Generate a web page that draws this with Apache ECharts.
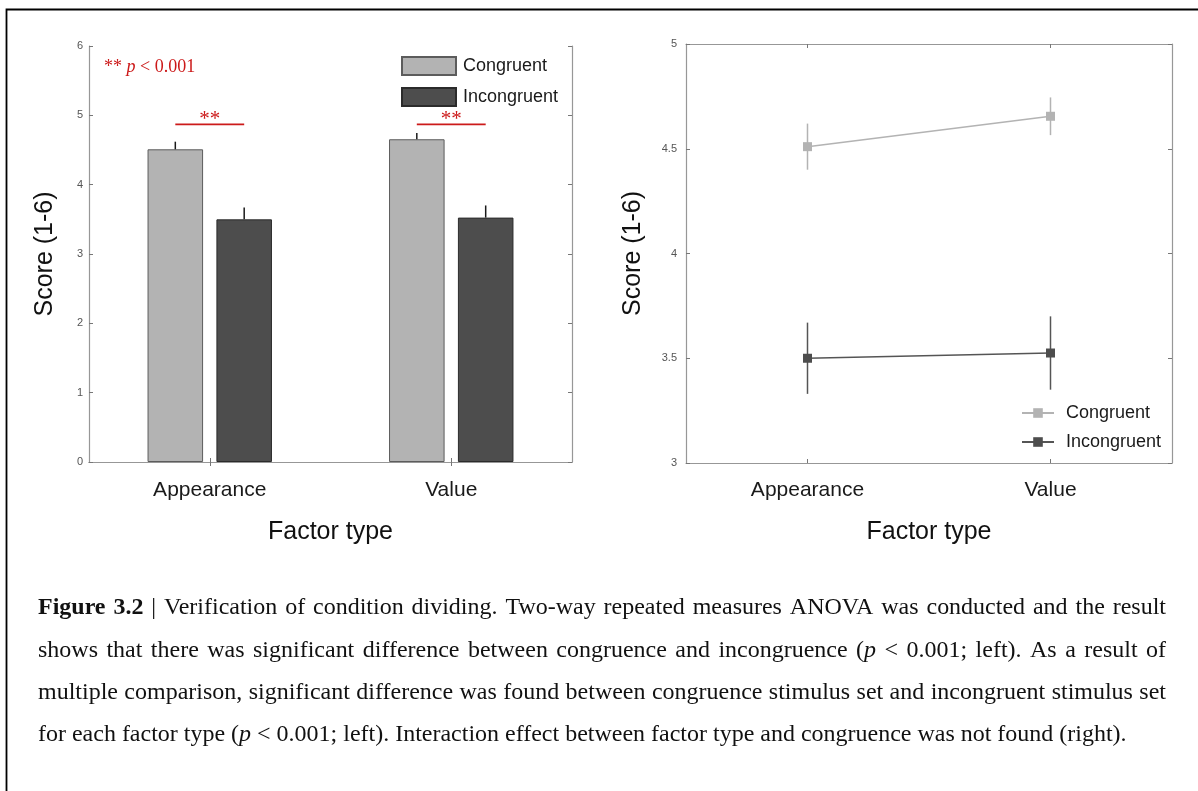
<!DOCTYPE html>
<html>
<head>
<meta charset="utf-8">
<script src="https://cdn.jsdelivr.net/npm/echarts@6/dist/echarts.min.js"></script>
<style>
  html, body { margin: 0; padding: 0; background: #fff; }
  #chart { width: 1198px; height: 791px; }
</style>
</head>
<body>
<div id="chart"></div>
<script>
// ---- data ----
const factorTypes = ['Appearance', 'Value'];
const congruentMean = [4.51, 4.655];
const congruentSE = [0.11, 0.09];
const incongruentMean = [3.50, 3.525];
const incongruentSE = [0.17, 0.175];
const sigBracketLevel = [4.87, 4.87];   // height of the "**" brackets on the bar panel
const sigMark = '**';
const barAxisRange = [0, 6, 1];         // min, max, interval
const lineAxisRange = [3, 5, 0.5];
const yAxisTitle = 'Score (1-6)';
const xAxisTitle = 'Factor type';
const captionLines = [
  '#Figure# #3.2# | Verification of condition dividing. Two-way repeated measures ANOVA was conducted and the result',
  'shows that there was significant difference between congruence and incongruence (_p_ < 0.001; left). As a result of',
  'multiple comparison, significant difference was found between congruence stimulus set and incongruent stimulus set',
  'for each factor type (_p_ < 0.001; left). Interaction effect between factor type and congruence was not found (right).'
];

// ---- styles ----
const SANS = 'Liberation Sans';
const SERIF = 'Liberation Serif';
const AXIS_GREY = '#979797';
const RED = '#cc1a1a';
const LIGHT = '#b3b3b3';
const DARK = '#4d4d4d';
const BAR_W = 0.23, BAR_GAP = 0.24;

const chart = echarts.init(document.getElementById('chart'), null, { renderer: 'canvas' });

function catAxis(gridIndex, bottom, labelMargin, nameGap) {
  return {
    type: 'category', gridIndex, data: factorTypes, position: bottom ? 'bottom' : 'top',
    boundaryGap: true,
    axisLine: { show: true, lineStyle: { color: AXIS_GREY, width: 1.2 } },
    axisTick: { show: true, inside: true, alignWithLabel: true, length: 4, lineStyle: { color: '#777' } },
    axisLabel: { show: bottom, fontFamily: SANS, fontSize: 21, color: '#1a1a1a', margin: labelMargin },
    name: bottom ? xAxisTitle : '', nameLocation: 'middle', nameGap,
    nameTextStyle: { fontFamily: SANS, fontSize: 25, color: '#111' },
    splitLine: { show: false }
  };
}
function valAxis(gridIndex, left, range, labelMargin, nameGap) {
  return {
    type: 'value', gridIndex, position: left ? 'left' : 'right',
    min: range[0], max: range[1], interval: range[2],
    axisLine: { show: true, lineStyle: { color: AXIS_GREY, width: 1.2 } },
    axisTick: { show: true, inside: true, length: 4, lineStyle: { color: '#777' } },
    axisLabel: { show: left, fontFamily: SANS, fontSize: 11, color: '#555', margin: labelMargin,
                 formatter: v => String(v) },
    splitLine: { show: false },
    name: left ? yAxisTitle : '', nameLocation: 'middle', nameRotate: 90, nameGap,
    nameTextStyle: { fontFamily: SANS, fontSize: 25, color: '#111' }
  };
}

// upper error whisker sitting on top of each bar
function barErrorItem(params, api) {
  const cat = api.value(0), m = api.value(1), se = api.value(2), g = api.value(3);
  const band = api.size([1, 0])[0];
  const bw = band * BAR_W;
  const off = (bw + bw * BAR_GAP) / 2 * (g === 0 ? -1 : 1);
  const p0 = api.coord([cat, m]);
  const p1 = api.coord([cat, m + se]);
  return {
    type: 'line',
    shape: { x1: p0[0] + off, y1: p0[1], x2: p1[0] + off, y2: p1[1] },
    style: { stroke: '#1a1a1a', lineWidth: 1.5 }
  };
}
// significance bracket spanning the two bars of a category
function sigItem(params, api) {
  const cat = api.value(0), y = api.value(1);
  const band = api.size([1, 0])[0];
  const bw = band * BAR_W;
  const off = (bw + bw * BAR_GAP) / 2;
  const p = api.coord([cat, y]);
  return {
    type: 'group',
    children: [
      { type: 'line', shape: { x1: p[0] - off, y1: p[1], x2: p[0] + off, y2: p[1] },
        style: { stroke: RED, lineWidth: 1.6 } },
      { type: 'text', x: p[0], y: p[1] - 5,
        style: { text: sigMark, fontFamily: SERIF, fontSize: 21, fill: RED, align: 'center', verticalAlign: 'middle' } }
    ]
  };
}
// symmetric error bar for the line panel
function lineErrorItem(color) {
  return function (params, api) {
    const cat = api.value(0), m = api.value(1), se = api.value(2);
    const lo = api.coord([cat, m - se]);
    const hi = api.coord([cat, m + se]);
    return { type: 'line', shape: { x1: lo[0], y1: lo[1], x2: hi[0], y2: hi[1] },
             style: { stroke: color, lineWidth: 1.5 } };
  };
}

const barErrData = factorTypes.map((_, i) => [i, congruentMean[i], congruentSE[i], 0])
  .concat(factorTypes.map((_, i) => [i, incongruentMean[i], incongruentSE[i], 1]));
const sigData = factorTypes.map((_, i) => [i, sigBracketLevel[i]]);
const congErr = factorTypes.map((_, i) => [i, congruentMean[i], congruentSE[i]]);
const incongErr = factorTypes.map((_, i) => [i, incongruentMean[i], incongruentSE[i]]);

// ---- caption, laid out word by word and justified ----
const measureCtx = document.createElement('canvas').getContext('2d');
function segFont(seg, size) {
  return (seg.italic ? 'italic ' : '') + (seg.bold ? 'bold ' : '') + size + 'px "' + SERIF + '"';
}
function parseToken(tok) {
  const parts = tok.split(/(#[^#]*#|_[^_]*_)/).filter(s => s.length);
  return parts.map(s => {
    if (s[0] === '#' && s.length > 1) return { text: s.slice(1, -1), bold: true };
    if (s[0] === '_' && s.length > 1) return { text: s.slice(1, -1), italic: true };
    return { text: s };
  });
}
function tokenWidth(segs, size) {
  let w = 0;
  segs.forEach(s => { measureCtx.font = segFont(s, size); w += measureCtx.measureText(s.text).width; });
  return w;
}
function naturalWidth(line, size) {
  const toks = line.split(' ').map(parseToken);
  measureCtx.font = segFont({}, size);
  const sp = measureCtx.measureText(' ').width;
  return toks.reduce((a, t) => a + tokenWidth(t, size), 0) + sp * (toks.length - 1);
}
const capLeft = 38, capRight = 1166;
const lastLineEnd = 1127;
const refSize = 20;
let capSize = refSize * (lastLineEnd - capLeft) / naturalWidth(captionLines[captionLines.length - 1], refSize);
capSize = Math.max(16, Math.min(24, capSize));
const capTop = 608, capStep = 42.3;

const captionEls = [];
captionLines.forEach((line, li) => {
  const toks = line.split(' ').map(parseToken);
  const widths = toks.map(t => tokenWidth(t, capSize));
  const total = widths.reduce((a, b) => a + b, 0);
  measureCtx.font = segFont({}, capSize);
  const natSpace = measureCtx.measureText(' ').width;
  const isLast = li === captionLines.length - 1;
  const gap = isLast ? natSpace : (capRight - capLeft - total) / (toks.length - 1);
  let x = capLeft;
  const y = capTop + li * capStep;
  toks.forEach((segs) => {
    segs.forEach(s => {
      captionEls.push({
        type: 'text', x, y, silent: true,
        style: { text: s.text, fontFamily: SERIF, fontSize: capSize,
                 fontWeight: s.bold ? 'bold' : 'normal', fontStyle: s.italic ? 'italic' : 'normal',
                 fill: '#111', align: 'left', verticalAlign: 'middle' }
      });
      measureCtx.font = segFont(s, capSize);
      x += measureCtx.measureText(s.text).width;
    });
    x += gap;
  });
});

const option = {
  animation: false,
  backgroundColor: '#fff',
  grid: [
    { left: 89, top: 46, width: 483, height: 416, containLabel: false },
    { left: 686, top: 44, width: 486, height: 419, containLabel: false }
  ],
  xAxis: [
    catAxis(0, true, 18, 58),
    catAxis(0, false, 0, 0),
    catAxis(1, true, 17, 57),
    catAxis(1, false, 0, 0)
  ],
  yAxis: [
    valAxis(0, true, barAxisRange, 6, 31),
    valAxis(0, false, barAxisRange, 0, 0),
    valAxis(1, true, lineAxisRange, 9, 40),
    valAxis(1, false, lineAxisRange, 0, 0)
  ],
  legend: [
    {
      data: ['Congruent', 'Incongruent'], orient: 'vertical', left: 396, top: 51,
      itemWidth: 54, itemHeight: 18, itemGap: 11, icon: 'rect', selectedMode: false,
      textStyle: { fontFamily: SANS, fontSize: 18, color: '#1a1a1a', lineHeight: 18, padding: [0, 0, 0, 2] }
    },
    {
      data: ['Congruent (line)', 'Incongruent (line)'], orient: 'vertical', left: 1016, top: 398,
      itemWidth: 32, itemHeight: 12, itemGap: 9, selectedMode: false,
      formatter: n => n.replace(' (line)', ''),
      textStyle: { fontFamily: SANS, fontSize: 18, color: '#1a1a1a', lineHeight: 20, padding: [0, 0, 0, 7] }
    }
  ],
  series: [
    {
      name: 'Congruent', type: 'bar', xAxisIndex: 0, yAxisIndex: 0, data: congruentMean,
      barWidth: (BAR_W * 100) + '%', barGap: (BAR_GAP * 100) + '%',
      itemStyle: { color: LIGHT, borderColor: '#5c5c5c', borderWidth: 1 }
    },
    {
      name: 'Incongruent', type: 'bar', xAxisIndex: 0, yAxisIndex: 0, data: incongruentMean,
      barWidth: (BAR_W * 100) + '%', barGap: (BAR_GAP * 100) + '%',
      itemStyle: { color: DARK, borderColor: '#2b2b2b', borderWidth: 1 }
    },
    {
      type: 'custom', xAxisIndex: 0, yAxisIndex: 0, data: barErrData, renderItem: barErrorItem,
      silent: true, z: 3
    },
    {
      type: 'custom', xAxisIndex: 0, yAxisIndex: 0, data: sigData, renderItem: sigItem,
      silent: true, z: 3
    },
    {
      type: 'custom', xAxisIndex: 2, yAxisIndex: 2, data: congErr, renderItem: lineErrorItem(LIGHT),
      silent: true, z: 1
    },
    {
      type: 'custom', xAxisIndex: 2, yAxisIndex: 2, data: incongErr, renderItem: lineErrorItem('#555'),
      silent: true, z: 1
    },
    {
      name: 'Congruent (line)', type: 'line', xAxisIndex: 2, yAxisIndex: 2, data: congruentMean,
      symbol: 'rect', symbolSize: 9, z: 4,
      lineStyle: { color: LIGHT, width: 1.5 }, itemStyle: { color: LIGHT }
    },
    {
      name: 'Incongruent (line)', type: 'line', xAxisIndex: 2, yAxisIndex: 2, data: incongruentMean,
      symbol: 'rect', symbolSize: 9, z: 4,
      lineStyle: { color: '#555', width: 1.5 }, itemStyle: { color: DARK }
    }
  ],
  graphic: {
    elements: [
      // figure frame
      { type: 'rect', shape: { x: 6.5, y: 9.5, width: 1400, height: 1000 }, silent: true,
        style: { fill: 'none', stroke: '#000', lineWidth: 1.8 } },
      // significance note
      { type: 'text', x: 104, y: 67, silent: true,
        style: {
          text: '{a|** }{b|p}{a| < 0.001}', verticalAlign: 'middle', align: 'left',
          rich: {
            a: { fontFamily: SERIF, fontSize: 18, fill: RED, color: RED },
            b: { fontFamily: SERIF, fontSize: 18, fontStyle: 'italic', fill: RED, color: RED }
          }
        } }
    ].concat(captionEls)
  }
};
chart.setOption(option);
</script>
</body>
</html>
